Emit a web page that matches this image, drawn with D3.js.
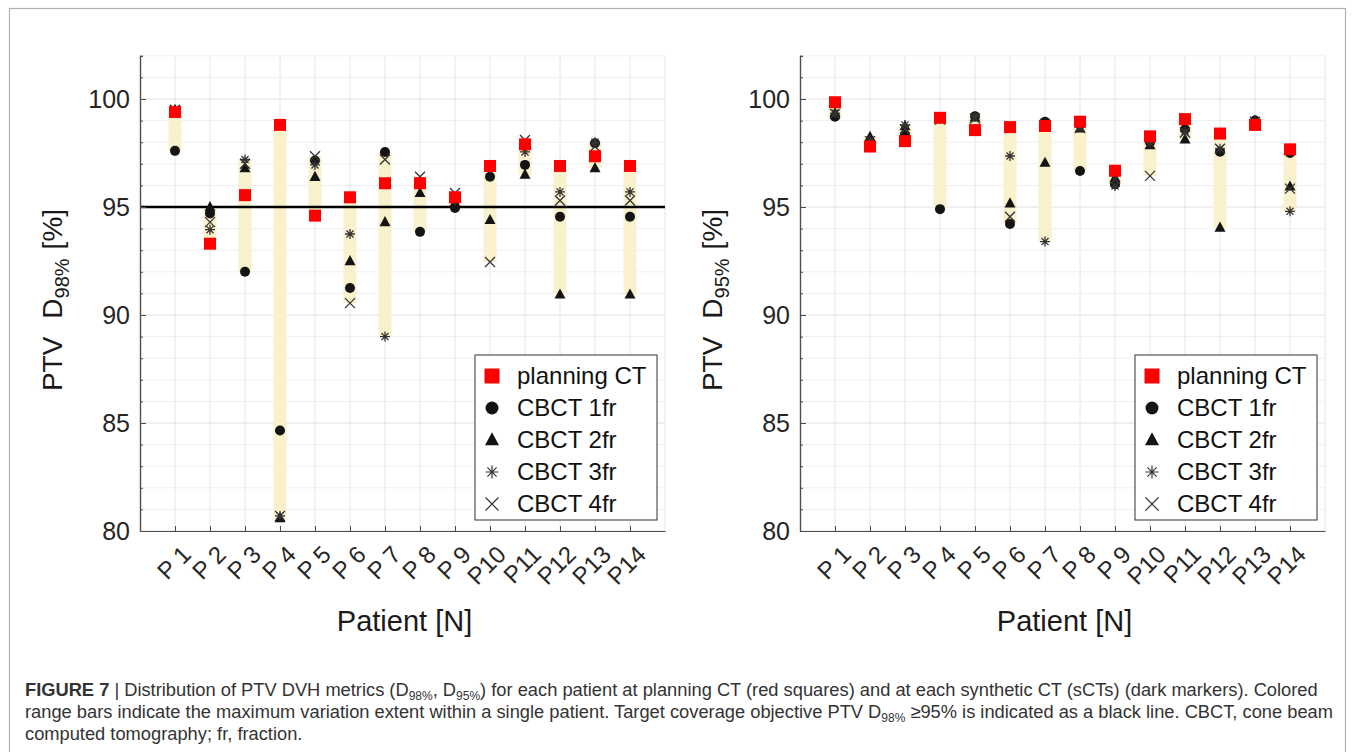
<!DOCTYPE html>
<html>
<head>
<meta charset="utf-8">
<script src="https://cdn.jsdelivr.net/npm/d3@7"></script>
<style>
  body { margin: 0; background: #fff; }
  text { font-family: "Liberation Sans", Arial, sans-serif; }
  .caption { font-family: "Liberation Sans Narrow", "Liberation Sans", sans-serif; fill: #333; }
</style>
</head>
<body>
<svg id="svg"></svg>
<script>
const patients = ['P 1','P 2','P 3','P 4','P 5','P 6','P 7','P 8','P 9','P10','P11','P12','P13','P14'];
const yTicks = [80, 85, 90, 95, 100];
const target = 95;

// PTV D98% [%]
const plan98 = [99.4, 93.3, 95.55, 98.8, 94.6, 95.45, 96.1, 96.1, 95.45, 96.9, 97.9, 96.9, 97.35, 96.9];
const fr1_98 = [97.6, 94.7, 92.0, 84.65, 97.15, 91.25, 97.55, 93.85, 94.95, 96.4, 96.95, 94.55, 97.95, 94.55];
const fr2_98 = [99.5, 95.0, 96.8, 80.6, 96.4, 92.5, 94.3, 95.65, 95.2, 94.4, 96.5, 90.95, 96.8, 90.95];
const fr3_98 = [99.4, 93.95, 97.2, 80.7, 96.95, 93.75, 89.0, 96.2, 95.3, 96.8, 97.55, 95.7, 98.0, 95.7];
const fr4_98 = [99.5, 94.3, 97.0, 80.7, 97.35, 90.55, 97.2, 96.4, 95.65, 92.45, 98.1, 95.3, 97.8, 95.3];

// PTV D95% [%]
const plan95 = [99.85, 97.8, 98.05, 99.13, 98.56, 98.7, 98.75, 98.95, 96.68, 98.27, 99.07, 98.4, 98.8, 97.67];
const fr1_95 = [99.18, 98.0, 98.35, 94.9, 99.2, 94.21, 98.95, 96.67, 96.05, 98.0, 98.6, 97.56, 99.0, 97.5];
const fr2_95 = [99.35, 98.25, 98.75, 99.1, 99.15, 95.17, 97.05, 98.64, 96.35, 97.87, 98.13, 94.05, 99.0, 95.95];
const fr3_95 = [99.35, 98.1, 98.8, 99.1, 99.2, 97.36, 93.4, 98.7, 95.97, 97.95, 98.5, 97.7, 98.97, 94.8];
const fr4_95 = [99.3, 98.05, 98.6, 99.05, 99.1, 94.55, 98.85, 98.65, 96.3, 96.44, 98.45, 97.7, 98.95, 95.85];

const legendNames = ['planning CT', 'CBCT 1fr', 'CBCT 2fr', 'CBCT 3fr', 'CBCT 4fr'];

const W = 1355, H = 752;
const svg = d3.select('#svg').attr('width', W).attr('height', H);
svg.append('rect').attr('width', W).attr('height', H).attr('fill', '#fff');
svg.append('rect')
  .attr('x', 9.5).attr('y', 8.5).attr('width', 1336).attr('height', 760)
  .attr('fill', 'none').attr('stroke', '#b0b0b0').attr('stroke-width', 1.2);

const dark = '#141414';

// marker shapes, r = half size
const shapes = {
  square: r => `M${-r},${-r}H${r}V${r}H${-r}Z`,
  circle: r => d3.symbol(d3.symbolCircle, Math.PI * r * r)(),
  triangle: r => `M0,${-r * 1.1}L${r},${r * 0.75}L${-r},${r * 0.75}Z`,
  star: r => {
    const a = r * 0.7071;
    return `M${-r},0H${r}M0,${-r}V${r}M${-a},${-a}L${a},${a}M${-a},${a}L${a},${-a}`;
  },
  cross: r => `M${-r},${-r}L${r},${r}M${-r},${r}L${r},${-r}`
};
const series = [
  {shape: 'circle', r: 5, fill: dark, stroke: 'none'},
  {shape: 'triangle', r: 5.5, fill: dark, stroke: 'none'},
  {shape: 'star', r: 5, fill: 'none', stroke: '#333'},
  {shape: 'cross', r: 5, fill: 'none', stroke: '#333'}
];
const planStyle = {shape: 'square', r: 6, fill: '#ff0000', stroke: 'none'};

function drawPanel(left, plan, frs, sub, showTarget) {
  const x = d3.scaleLinear().domain([0, 15]).range([left, left + 525]);
  const y = d3.scaleLinear().domain([80, 102]).range([531, 55.8]);
  const g = svg.append('g');

  // grid
  g.append('g').selectAll('line')
    .data(d3.range(80, 103, 1).filter(v => v % 5 !== 0))
    .enter().append('line')
    .attr('x1', x(0)).attr('x2', x(15))
    .attr('y1', d => y(d)).attr('y2', d => y(d))
    .attr('stroke', '#efefef').attr('stroke-width', 1);
  g.append('g').selectAll('line')
    .data(d3.range(1, 16))
    .enter().append('line')
    .attr('x1', d => x(d)).attr('x2', d => x(d))
    .attr('y1', y(80)).attr('y2', y(102))
    .attr('stroke', '#e6e6e6').attr('stroke-width', 1);
  g.append('g').selectAll('line')
    .data(yTicks)
    .enter().append('line')
    .attr('x1', x(0)).attr('x2', x(15))
    .attr('y1', d => y(d)).attr('y2', d => y(d))
    .attr('stroke', '#e2e2e2').attr('stroke-width', 1.2);

  // range bars
  const idx = d3.range(patients.length);
  const lo = i => d3.min([plan[i], ...frs.map(f => f[i])]);
  const hi = i => d3.max([plan[i], ...frs.map(f => f[i])]);
  g.append('g').selectAll('rect')
    .data(idx)
    .enter().append('rect')
    .attr('x', i => x(i + 1) - 6.5)
    .attr('width', 13)
    .attr('y', i => y(hi(i)))
    .attr('height', i => y(lo(i)) - y(hi(i)))
    .attr('fill', '#f9f0cc');

  if (showTarget) {
    g.append('line')
      .attr('x1', x(0)).attr('x2', x(15))
      .attr('y1', y(target)).attr('y2', y(target))
      .attr('stroke', '#000').attr('stroke-width', 2.6);
  }

  // axes
  const ay = g.append('g').attr('transform', `translate(${x(0)},0)`)
    .call(d3.axisLeft(y).tickValues(yTicks).tickSize(-6).tickSizeOuter(0).tickPadding(10));
  ay.append('g')
    .call(d3.axisLeft(y).tickValues(d3.range(80, 103).filter(v => v % 5 !== 0)).tickSize(-3).tickFormat(''));
  ay.selectAll('.domain').attr('stroke', '#4d4d4d').attr('stroke-width', 1.2);
  ay.selectAll('.tick line').attr('stroke', '#4d4d4d');
  ay.selectAll('text').attr('font-size', 25).attr('fill', '#262626').attr('font-family', '"Liberation Sans", Arial, sans-serif');

  const ax = g.append('g').attr('transform', `translate(0,${y(80)})`)
    .call(d3.axisBottom(x).tickValues(d3.range(1, 15)).tickSize(-5).tickSizeOuter(0)
      .tickFormat(d => patients[d - 1]));
  ax.selectAll('.domain').attr('stroke', '#4d4d4d').attr('stroke-width', 1.2);
  ax.selectAll('.tick line').attr('stroke', '#4d4d4d');
  ax.selectAll('text')
    .attr('font-size', 24).attr('fill', '#262626').attr('font-family', '"Liberation Sans", Arial, sans-serif')
    .attr('text-anchor', 'end').attr('y', 0).attr('dy', '0.35em')
    .attr('transform', 'translate(11,19) rotate(-45)');

  // markers
  frs.forEach((f, k) => {
    const s = series[k];
    g.append('g').selectAll('path')
      .data(f)
      .enter().append('path')
      .attr('transform', (d, i) => `translate(${x(i + 1)},${y(d)})`)
      .attr('d', shapes[s.shape](s.r))
      .attr('fill', s.fill).attr('stroke', s.stroke).attr('stroke-width', 1.3);
  });
  g.append('g').selectAll('path')
    .data(plan)
    .enter().append('path')
    .attr('transform', (d, i) => `translate(${x(i + 1)},${y(d)})`)
    .attr('d', shapes.square(planStyle.r))
    .attr('fill', planStyle.fill);

  // axis titles
  g.append('text')
    .attr('x', x(7.5) + 2).attr('y', 631)
    .attr('text-anchor', 'middle').attr('font-size', 29).attr('fill', '#1a1a1a')
    .text('Patient [N]');
  const yl = g.append('text')
    .attr('transform', `translate(${left - 78},300) rotate(-90)`)
    .attr('text-anchor', 'middle').attr('font-size', 28).attr('fill', '#1a1a1a');
  yl.append('tspan').text('PTV');
  yl.append('tspan').attr('dx', 18).text('D');
  yl.append('tspan').attr('font-size', 20).attr('dy', 7).text(sub);
  yl.append('tspan').attr('dy', -7).attr('dx', 9).text('[%]');

  // legend
  const lg = g.append('g').attr('transform', `translate(${left + 335},355)`);
  lg.append('rect').attr('width', 182).attr('height', 165)
    .attr('fill', '#fff').attr('stroke', '#333').attr('stroke-width', 1);
  const styles = [planStyle, ...series];
  const items = lg.selectAll('g.item').data(legendNames).enter().append('g')
    .attr('transform', (_, i) => `translate(17,${21 + i * 32})`);
  items.append('path')
    .attr('d', (_, i) => shapes[styles[i].shape](styles[i].r + 1.5))
    .attr('fill', (_, i) => styles[i].fill)
    .attr('stroke', (_, i) => styles[i].stroke).attr('stroke-width', 1.2);
  items.append('text')
    .attr('x', 25).attr('dy', '0.35em')
    .attr('font-size', 24).attr('fill', '#111')
    .text(d => d);
}

drawPanel(140, plan98, [fr1_98, fr2_98, fr3_98, fr4_98], '98%', true);
drawPanel(800, plan95, [fr1_95, fr2_95, fr3_95, fr4_95], '95%', false);

// caption
const cap = svg.append('g').attr('class', 'caption').attr('font-size', 18.3);
const l1 = cap.append('text').attr('x', 25).attr('y', 696);
l1.append('tspan').attr('font-weight', 'bold').text('FIGURE 7');
l1.append('tspan').text(' | Distribution of PTV DVH metrics (D');
l1.append('tspan').attr('font-size', 12).attr('dy', 4).text('98%');
l1.append('tspan').attr('dy', -4).text(', D');
l1.append('tspan').attr('font-size', 12).attr('dy', 4).text('95%');
l1.append('tspan').attr('dy', -4).text(') for each patient at planning CT (red squares) and at each synthetic CT (sCTs) (dark markers). Colored');
const l2 = cap.append('text').attr('x', 25).attr('y', 718);
l2.append('tspan').text('range bars indicate the maximum variation extent within a single patient. Target coverage objective PTV D');
l2.append('tspan').attr('font-size', 12).attr('dy', 4).text('98%');
l2.append('tspan').attr('dy', -4).text(' \u226595% is indicated as a black line. CBCT, cone beam');
cap.append('text').attr('x', 25).attr('y', 740).text('computed tomography; fr, fraction.');
</script>
</body>
</html>
